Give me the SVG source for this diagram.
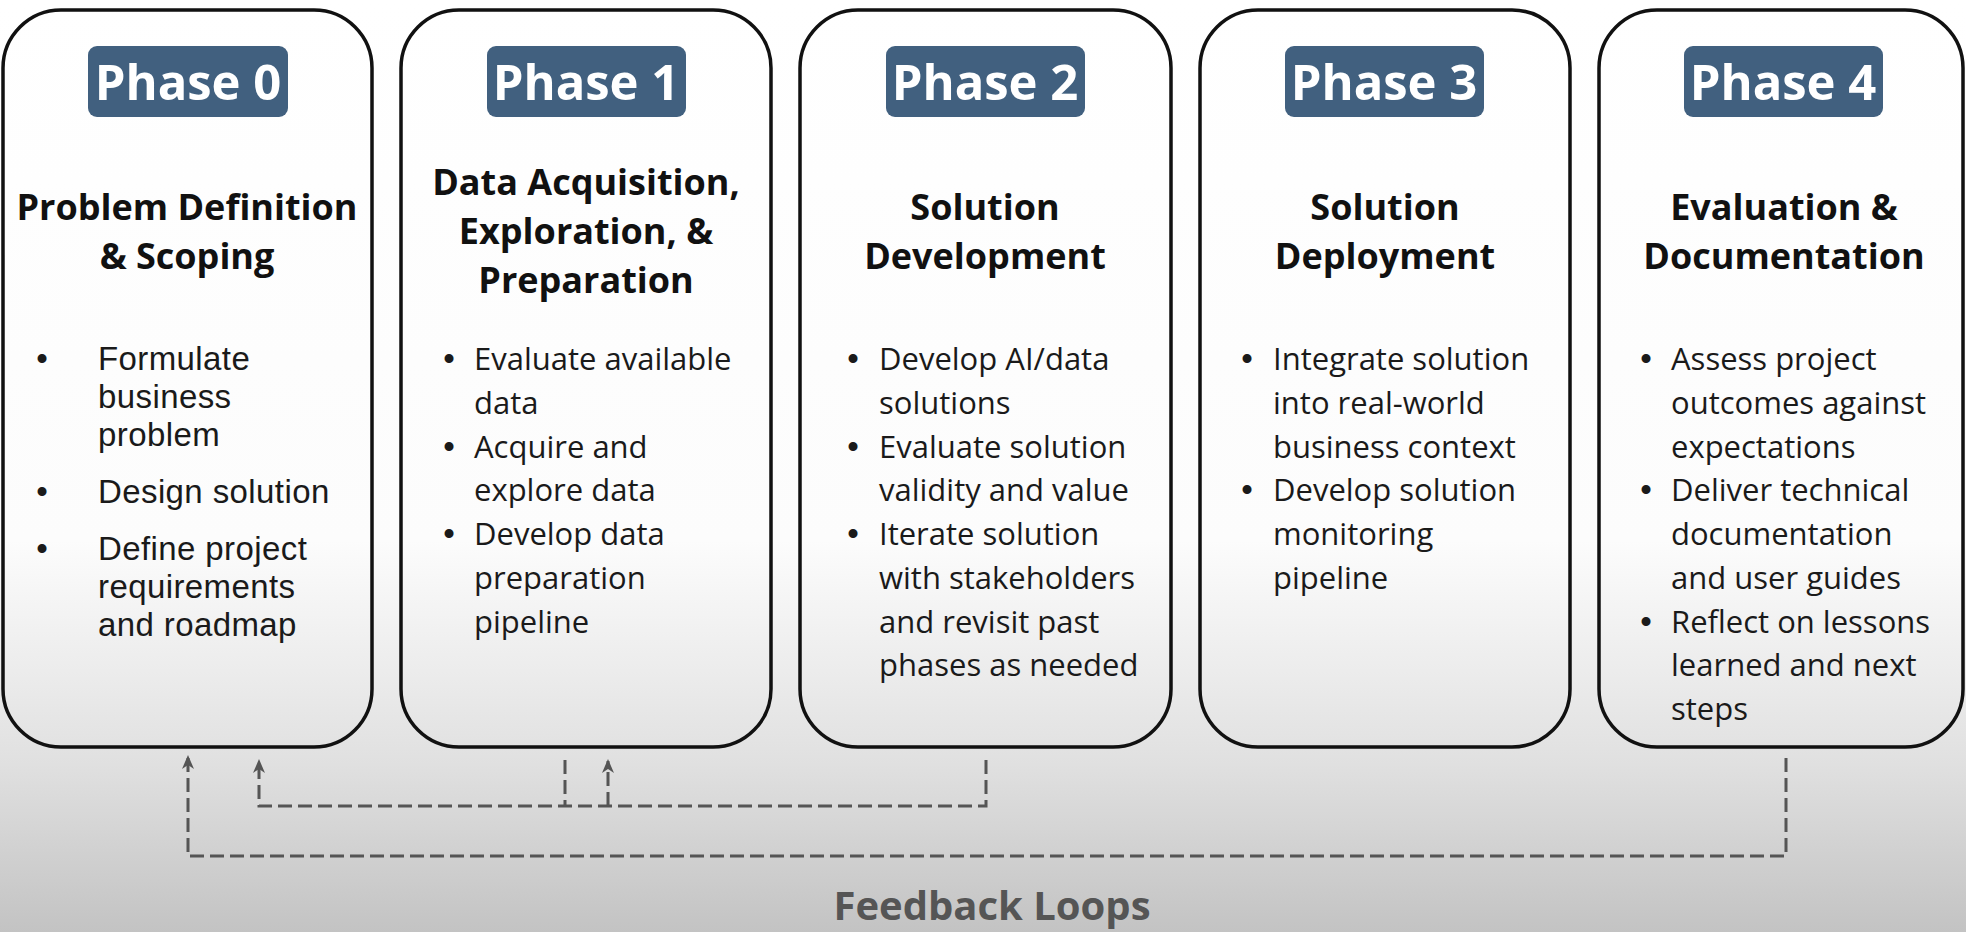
<svg xmlns="http://www.w3.org/2000/svg" width="1966" height="932" viewBox="0 0 1966 932">
<defs>
<linearGradient id="bg" x1="0" y1="0" x2="0" y2="1">
<stop offset="0" stop-color="#ffffff"/>
<stop offset="0.58" stop-color="#fcfcfc"/>
<stop offset="0.72" stop-color="#ececec"/>
<stop offset="0.82" stop-color="#e0e0e0"/>
<stop offset="1" stop-color="#c3c3c3"/>
</linearGradient>
<marker id="arr" viewBox="0 0 14 12" refX="12" refY="6" markerWidth="14" markerHeight="12" markerUnits="userSpaceOnUse" orient="auto">
<path d="M14,6 L0,0 L4,6 L0,12 Z" fill="#555"/>
</marker>
<style>
.box{fill:none;stroke:#111;stroke-width:3.5}
.badge{fill:#41607f}
.bt{font-family:"Open Sans","DejaVu Sans",sans-serif;font-weight:700;font-size:49px;fill:#fff;text-anchor:middle}
.ti{font-family:"Open Sans","DejaVu Sans",sans-serif;font-weight:700;font-size:36px;fill:#111;text-anchor:middle}
.tx{font-family:"Open Sans","DejaVu Sans",sans-serif;font-size:31px;fill:#1a1a1a}
.dot{font-family:"Liberation Sans",Arial,sans-serif;font-size:33px;fill:#1a1a1a;text-anchor:middle}
.tx0{font-family:"Liberation Sans",Arial,sans-serif;font-size:33px;letter-spacing:0.4px;fill:#1a1a1a}
.dot0{font-family:"Liberation Sans",Arial,sans-serif;font-size:33px;fill:#1a1a1a;text-anchor:middle}
.fl{fill:none;stroke:#555;stroke-width:3;stroke-dasharray:14 6}
.lbl{font-family:"Open Sans","DejaVu Sans",sans-serif;font-weight:700;font-size:40px;fill:#555;text-anchor:middle}
</style>
</defs>
<rect x="0" y="0" width="1966" height="932" fill="url(#bg)"/>

<g id="phase0">
<rect class="box" x="3" y="10" width="369" height="737" rx="58"/>
<rect class="badge" x="88" y="46" width="200" height="71" rx="9"/>
<text class="bt" x="188" y="100">Phase 0</text>
<text class="ti" x="187" y="220">Problem Definition</text>
<text class="ti" x="187" y="269">&amp; Scoping</text>
<text class="dot0" x="42" y="370">•</text>
<text class="tx0" x="98" y="370">Formulate</text>
<text class="tx0" x="98" y="408">business</text>
<text class="tx0" x="98" y="446">problem</text>
<text class="dot0" x="42" y="503">•</text>
<text class="tx0" x="98" y="503">Design solution</text>
<text class="dot0" x="42" y="560">•</text>
<text class="tx0" x="98" y="560">Define project</text>
<text class="tx0" x="98" y="598">requirements</text>
<text class="tx0" x="98" y="636">and roadmap</text>
</g>

<g id="phase1">
<rect class="box" x="401" y="10" width="370" height="737" rx="58"/>
<rect class="badge" x="487" y="46" width="199" height="71" rx="9"/>
<text class="bt" x="586" y="100">Phase 1</text>
<text class="ti" x="586" y="195">Data Acquisition,</text>
<text class="ti" x="586" y="244">Exploration, &amp;</text>
<text class="ti" x="586" y="293">Preparation</text>
<text class="dot" x="449" y="370">•</text>
<text class="tx" x="474" y="370">Evaluate available</text>
<text class="tx" x="474" y="414">data</text>
<text class="dot" x="449" y="458">•</text>
<text class="tx" x="474" y="458">Acquire and</text>
<text class="tx" x="474" y="501">explore data</text>
<text class="dot" x="449" y="545">•</text>
<text class="tx" x="474" y="545">Develop data</text>
<text class="tx" x="474" y="589">preparation</text>
<text class="tx" x="474" y="633">pipeline</text>
</g>

<g id="phase2">
<rect class="box" x="800" y="10" width="371" height="737" rx="58"/>
<rect class="badge" x="886" y="46" width="199" height="71" rx="9"/>
<text class="bt" x="985" y="100">Phase 2</text>
<text class="ti" x="985" y="220">Solution</text>
<text class="ti" x="985" y="269">Development</text>
<text class="dot" x="853" y="370">•</text>
<text class="tx" x="879" y="370">Develop AI/data</text>
<text class="tx" x="879" y="414">solutions</text>
<text class="dot" x="853" y="458">•</text>
<text class="tx" x="879" y="458">Evaluate solution</text>
<text class="tx" x="879" y="501">validity and value</text>
<text class="dot" x="853" y="545">•</text>
<text class="tx" x="879" y="545">Iterate solution</text>
<text class="tx" x="879" y="589">with stakeholders</text>
<text class="tx" x="879" y="633">and revisit past</text>
<text class="tx" x="879" y="676">phases as needed</text>
</g>

<g id="phase3">
<rect class="box" x="1200" y="10" width="370" height="737" rx="58"/>
<rect class="badge" x="1285" y="46" width="199" height="71" rx="9"/>
<text class="bt" x="1384" y="100">Phase 3</text>
<text class="ti" x="1385" y="220">Solution</text>
<text class="ti" x="1385" y="269">Deployment</text>
<text class="dot" x="1247" y="370">•</text>
<text class="tx" x="1273" y="370">Integrate solution</text>
<text class="tx" x="1273" y="414">into real-world</text>
<text class="tx" x="1273" y="458">business context</text>
<text class="dot" x="1247" y="501">•</text>
<text class="tx" x="1273" y="501">Develop solution</text>
<text class="tx" x="1273" y="545">monitoring</text>
<text class="tx" x="1273" y="589">pipeline</text>
</g>

<g id="phase4">
<rect class="box" x="1599" y="10" width="364" height="737" rx="58"/>
<rect class="badge" x="1684" y="46" width="199" height="71" rx="9"/>
<text class="bt" x="1783" y="100">Phase 4</text>
<text class="ti" x="1784" y="220">Evaluation &amp;</text>
<text class="ti" x="1784" y="269">Documentation</text>
<text class="dot" x="1646" y="370">•</text>
<text class="tx" x="1671" y="370">Assess project</text>
<text class="tx" x="1671" y="414">outcomes against</text>
<text class="tx" x="1671" y="458">expectations</text>
<text class="dot" x="1646" y="501">•</text>
<text class="tx" x="1671" y="501">Deliver technical</text>
<text class="tx" x="1671" y="545">documentation</text>
<text class="tx" x="1671" y="589">and user guides</text>
<text class="dot" x="1646" y="633">•</text>
<text class="tx" x="1671" y="633">Reflect on lessons</text>
<text class="tx" x="1671" y="676">learned and next</text>
<text class="tx" x="1671" y="720">steps</text>
</g>

<g id="connectors">
<path class="fl" d="M1786,758 V856 H188 V757" marker-end="url(#arr)"/>
<path class="fl" d="M986,760 V806 H259 V761" marker-end="url(#arr)"/>
<path class="fl" d="M565,760 V806"/>
<path class="fl" d="M608,806 V761" marker-end="url(#arr)"/>
</g>

<g id="label">
<text class="lbl" x="992" y="920">Feedback Loops</text>
</g>
</svg>
